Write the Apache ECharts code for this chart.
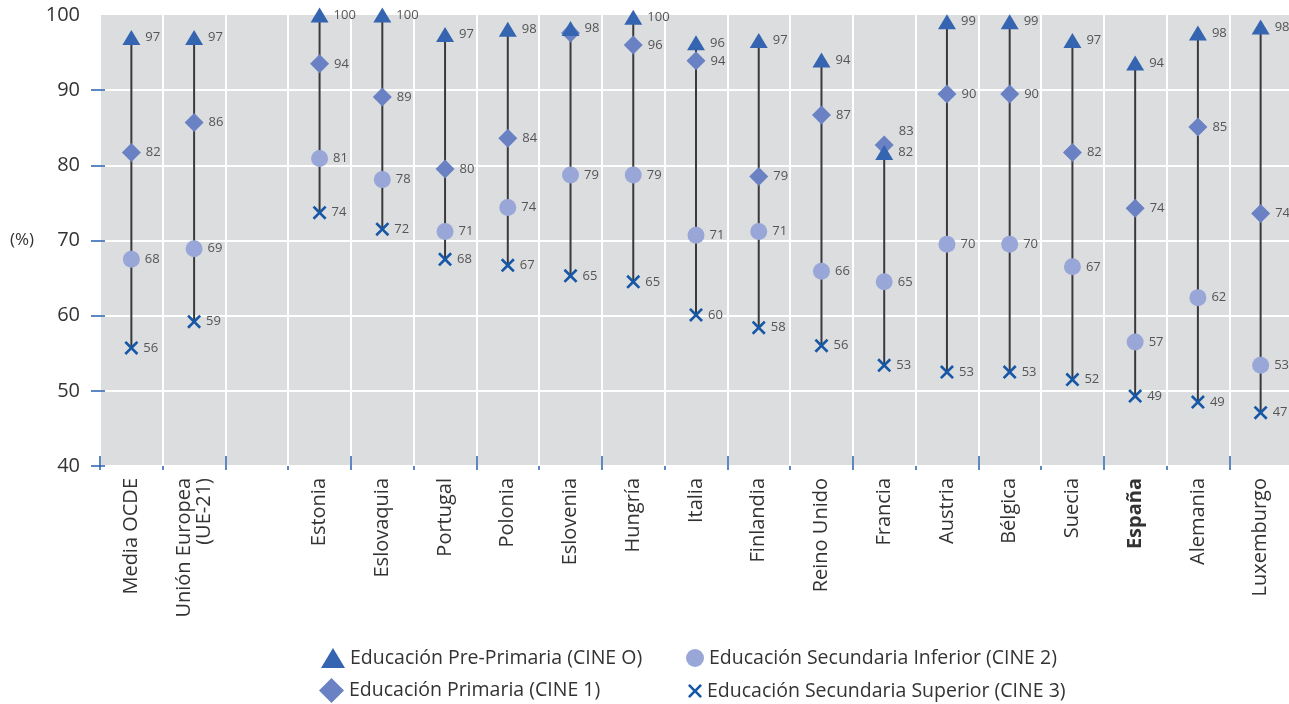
<!DOCTYPE html>
<html><head><meta charset="utf-8">
<script src="https://cdn.jsdelivr.net/npm/echarts@6/dist/echarts.min.js"></script>
<style>html,body{margin:0;padding:0;background:#fff}#c{width:1289px;height:704px}</style>
</head><body><div id="c"></div>
<script>
const categories = ['Media OCDE','Unión Europea\n(UE-21)','','Estonia','Eslovaquia','Portugal','Polonia','Eslovenia','Hungría','Italia','Finlandia','Reino Unido','Francia','Austria','Bélgica','Suecia','España','Alemania','Luxemburgo'];
const preprimaria = [97.0, 97.0, null, 100, 100, 97.4, 98.1, 98.2, 99.7, 96.3, 96.6, 94.0, 81.7, 99.1, 99.1, 96.6, 93.6, 97.6, 98.4];
const primaria    = [81.7, 85.7, null, 93.5, 89.1, 79.5, 83.6, 97.6, 96.0, 93.9, 78.5, 86.7, 82.7, 89.5, 89.5, 81.7, 74.3, 85.1, 73.6];
const secInferior = [67.5, 68.9, null, 80.9, 78.1, 71.2, 74.4, 78.7, 78.7, 70.7, 71.2, 65.9, 64.5, 69.5, 69.5, 66.5, 56.5, 62.4, 53.4];
const secSuperior = [55.7, 59.2, null, 73.7, 71.5, 67.5, 66.7, 65.3, 64.5, 60.1, 58.4, 56.0, 53.4, 52.5, 52.5, 51.5, 49.3, 48.5, 47.1];
const yTicks = [40, 50, 60, 70, 80, 90, 100];
const names = ['Educación Pre-Primaria (CINE O)','Educación Primaria (CINE 1)','Educación Secundaria Inferior (CINE 2)','Educación Secundaria Superior (CINE 3)'];

const FONT = 'Open Sans';
const X_PATH = 'path://M0,1.6 L1.6,0 L6,4.4 L10.4,0 L12,1.6 L7.6,6 L12,10.4 L10.4,12 L6,7.6 L1.6,12 L0,10.4 L4.4,6 Z';
const blue = '#2a62ad';

const rangeData = categories.map((c, i) => {
  const vals = [preprimaria[i], primaria[i], secInferior[i], secSuperior[i]].filter(v => v != null);
  return vals.length ? [i, Math.min(...vals), Math.max(...vals)] : [i, null, null];
}).filter(d => d[1] != null);

const toData = (arr, special) => arr.map((v, i) => {
  if (v == null) return '-';
  if (special && special[categories[i]]) return Object.assign({ value: v }, special[categories[i]]);
  return v;
});

const lbl = {
  show: true, position: 'right', distance: 5, fontFamily: FONT, fontSize: 13, color: '#555',
  formatter: p => Math.round(p.value)
};

const legTxt = { fontFamily: FONT, fontSize: 19.5, color: '#333' };
const mkLegend = (name, icon, left, top, w, h) => ({
  left, top, orient: 'horizontal', itemWidth: w, itemHeight: h, padding: 0,
  textStyle: legTxt, data: [{ name, icon }]
});

const chart = echarts.init(document.getElementById('c'));
chart.setOption({
  animation: false,
  textStyle: { fontFamily: FONT },
  grid: { left: 100, top: 15, width: 1192, height: 451, show: true, backgroundColor: '#dcdddf', borderWidth: 0,
          containLabel: false, outerBoundsMode: 'none' },
  legend: [
    mkLegend(names[0], 'triangle', 321, 648, 24, 20),
    mkLegend(names[1], 'diamond', 319, 678, 25, 25),
    mkLegend(names[2], 'circle', 686, 648, 18, 18),
    mkLegend(names[3], X_PATH, 688, 681, 14, 14)
  ],
  xAxis: [
    { type: 'category', data: categories, boundaryGap: true,
      axisLine: { show: false },
      axisTick: { show: true, inside: false, length: 4, lineStyle: { color: blue, width: 1.5 } },
      splitLine: { show: true, lineStyle: { color: '#ffffff', width: 2 } },
      axisLabel: { rotate: 90, margin: 12, fontFamily: FONT, fontSize: 20, color: '#333', interval: 0,
        formatter: v => v === 'España' ? '{b|España}' : v,
        rich: { b: { fontWeight: 'bold', fontFamily: FONT, fontSize: 20, color: '#333' } } } },
    { type: 'category', data: categories, boundaryGap: true, position: 'bottom',
      axisLine: { show: false },
      axisTick: { show: true, inside: true, length: 10, lineStyle: { color: blue, width: 1.5 } },
      splitLine: { show: false }, axisLabel: { show: false } }
  ],
  yAxis: [
    { type: 'value', min: 40, max: 100, interval: 10,
      name: '(%)', nameLocation: 'middle', nameRotate: 0, nameGap: 66,
      nameTextStyle: { fontFamily: FONT, fontSize: 17, color: '#333' },
      axisLine: { show: false },
      axisTick: { show: true, length: 9, lineStyle: { color: blue, width: 1.5 }, customValues: yTicks.slice(0, 6) },
      splitLine: { show: true, lineStyle: { color: '#ffffff', width: 2 } },
      axisLabel: { margin: 20, fontFamily: FONT, fontSize: 20, color: '#333', customValues: yTicks } },
    { type: 'value', min: 40, max: 100, interval: 10, position: 'left',
      axisLine: { show: false },
      axisTick: { show: true, inside: true, length: 5, lineStyle: { color: blue, width: 1.5 }, customValues: yTicks.slice(0, 6) },
      splitLine: { show: false }, axisLabel: { show: false } }
  ],
  series: [
    { type: 'custom', z: 1, silent: true, xAxisIndex: 0, yAxisIndex: 0,
      data: rangeData, encode: { x: 0, y: [1, 2] },
      renderItem: (params, api) => {
        const lo = api.coord([api.value(0), api.value(1)]);
        const hi = api.coord([api.value(0), api.value(2)]);
        return { type: 'line', shape: { x1: lo[0], y1: lo[1], x2: hi[0], y2: hi[1] },
          style: { stroke: '#3a3a3c', lineWidth: 2 } };
      } },
    { name: names[3], type: 'scatter', z: 3, symbol: X_PATH, symbolSize: 14,
      itemStyle: { color: '#1657a6', opacity: 1 }, label: lbl, data: toData(secSuperior) },
    { name: names[2], type: 'scatter', z: 3, symbol: 'circle', symbolSize: 17,
      itemStyle: { color: '#98a7d7', opacity: 1 }, label: lbl, data: toData(secInferior) },
    { name: names[1], type: 'scatter', z: 3, symbol: 'diamond', symbolSize: 19,
      itemStyle: { color: '#6a82c3', opacity: 1 }, label: lbl,
      data: toData(primaria, { 'Francia': { label: { offset: [0, -14] } }, 'Eslovenia': { label: { show: false } } }) },
    { name: names[0], type: 'scatter', z: 3, symbol: 'triangle', symbolSize: [18, 15],
      itemStyle: { color: '#3565b1', opacity: 1 }, label: lbl, data: toData(preprimaria) }
  ]
});
</script></body></html>
